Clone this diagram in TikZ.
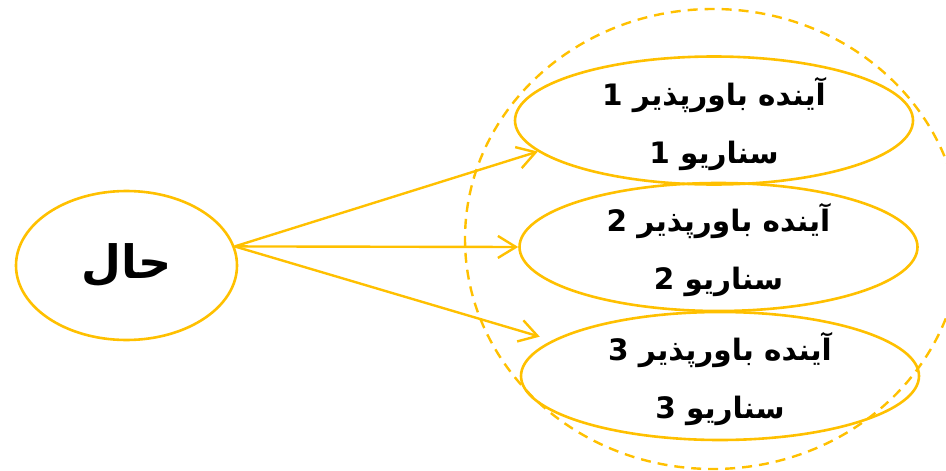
\documentclass[tikz,border=0pt]{standalone}
\usepackage{fontspec}
\usetikzlibrary{shapes.geometric,arrows.meta}
\TeXXeTstate=1
\newfontfamily\arabicfont[Script=Arabic]{DejaVu Sans}
\definecolor{gold}{HTML}{FFC000}
% strut that gives the first line some extra head room
\newcommand{\headroom}{\rule{0pt}{35pt}}
\begin{document}
\begin{tikzpicture}[x=1pt,y=-1pt,
  bubble/.style={ellipse, draw=gold, line width=2.6pt, inner sep=0pt, align=center,
    font=\arabicfont\bfseries\fontsize{29.5}{58}\selectfont},
  future/.style={bubble, inner ysep=-14pt, minimum width=398pt, minimum height=128pt},
  link/.style={draw=gold, line width=2.4pt,
    -{Straight Barb[length=18pt,width=22pt,line width=2.4pt]}},
  horizon/.style={draw=gold, line width=2.4pt, dash pattern=on 10pt off 7pt}]
\useasboundingbox (0,0) rectangle (946,471);

% dashed envelope around the scenarios
\draw[horizon] (713,239) ellipse [x radius=248pt, y radius=230pt];

% present state
\node[bubble, minimum width=221pt, minimum height=149pt,
  font=\arabicfont\bfseries\fontsize{46}{52}\selectfont] (hal) at (126.5,265.5) {\beginR حال\endR};

% plausible futures
\node[future] (s1) at (714,120.5) {\headroom\beginR آینده باورپذیر 1\endR\\\beginR سناریو 1\endR};
\node[future] (s2) at (718.5,247) {\headroom\beginR آینده باورپذیر 2\endR\\\beginR سناریو 2\endR};
\node[future] (s3) at (720,376) {\headroom\beginR آینده باورپذیر 3\endR\\\beginR سناریو 3\endR};

% connectors
\draw[link] (hal.10) -- (s1.190);
\draw[link] (hal.10) -- (s2.west);
\draw[link, shorten >=13pt] (hal.10) -- (s3.168);
\end{tikzpicture}
\end{document}
